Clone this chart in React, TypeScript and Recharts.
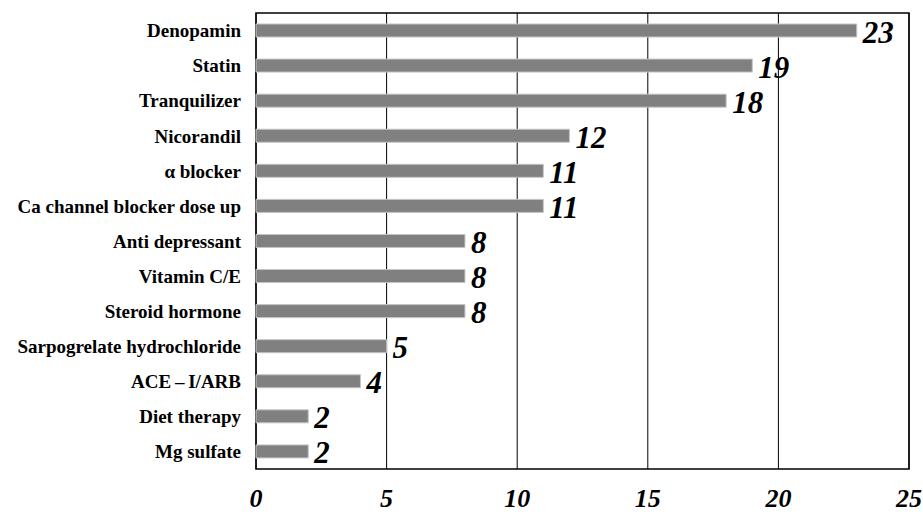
import React from 'react';
import { BarChart, Bar, XAxis, YAxis, CartesianGrid, ReferenceArea, LabelList } from 'recharts';

const categories = [
  'Denopamin',
  'Statin',
  'Tranquilizer',
  'Nicorandil',
  'α blocker',
  'Ca channel blocker dose up',
  'Anti depressant',
  'Vitamin C/E',
  'Steroid hormone',
  'Sarpogrelate hydrochloride',
  'ACE\u2009\u2013\u2009I/ARB',
  'Diet therapy',
  'Mg sulfate',
];
const counts = [23, 19, 18, 12, 11, 11, 8, 8, 8, 5, 4, 2, 2];
const xTicks = [0, 5, 10, 15, 20, 25];
const boundaryTicks = [1, 2, 3, 4, 5, 6, 7, 8, 9, 10, 11, 12];

const data = categories.map((name, i) => ({ name, value: counts[i] }));

const SERIF = "'Liberation Serif', 'Times New Roman', 'Noto Sans CJK JP', serif";

const ValueLabel = (props: any) => {
  const { x, y, width, height, value } = props;
  return (
    <text
      x={Number(x) + Number(width) + 6}
      y={Number(y) + Number(height) / 2 + 12}
      fontFamily={SERIF}
      fontWeight="bold"
      fontStyle="italic"
      fontSize={31}
      fill="#000"
    >
      {value}
    </text>
  );
};

export default function App() {
  return (
    <div style={{ position: 'absolute', left: 0, top: 0, width: 923, height: 518, background: '#fff' }}>
      <BarChart
        width={923}
        height={518}
        data={data}
        layout="vertical"
        margin={{ top: 13, right: 14, bottom: 0, left: 0 }}
      >
        <CartesianGrid horizontal={false} vertical={true} stroke="#000" strokeWidth={1} />
        <XAxis
          type="number"
          domain={[0, 25]}
          ticks={xTicks}
          interval={0}
          height={49}
          axisLine={false}
          tickLine={false}
          tickSize={0}
          tickMargin={20}
          tick={{ fontFamily: SERIF, fontWeight: 'bold', fontStyle: 'italic', fontSize: 26, fill: '#000' }}
        />
        <YAxis
          type="category"
          dataKey="name"
          width={256}
          axisLine={false}
          tickLine={false}
          tickSize={0}
          tickMargin={15}
          interval={0}
          tick={{ fontFamily: SERIF, fontWeight: 'bold', fontSize: 19, fill: '#000' }}
        />
        <YAxis
          yAxisId="bounds"
          type="number"
          domain={[0, 13]}
          ticks={boundaryTicks}
          interval={0}
          orientation="left"
          mirror
          width={0}
          axisLine={false}
          tickSize={5}
          tickLine={{ stroke: '#000', strokeWidth: 1 }}
          tick={() => <g />}
        />
        <Bar dataKey="value" fill="#808080" stroke="#c4c4c4" strokeWidth={1} barSize={13} isAnimationActive={false}>
          <LabelList dataKey="value" content={ValueLabel} />
        </Bar>
        <ReferenceArea x1={0} x2={25} fill="none" stroke="#000" strokeWidth={1.5} fillOpacity={0} ifOverflow="visible" />
      </BarChart>
    </div>
  );
}
